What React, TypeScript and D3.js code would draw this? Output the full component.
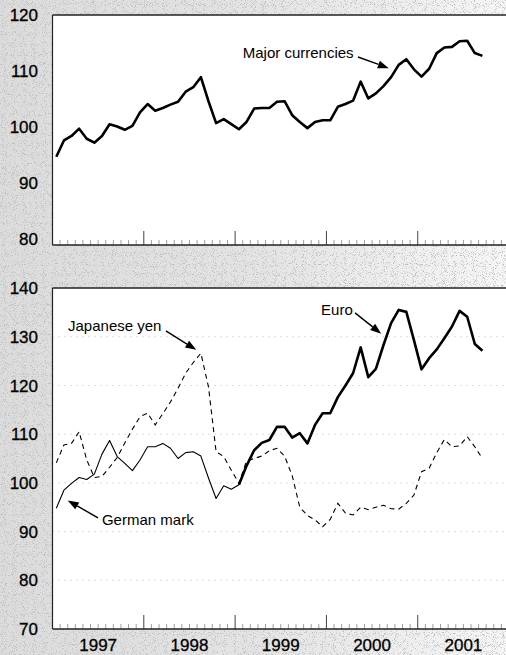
import React from 'react';
import * as d3 from 'd3';

// ---- data (monthly, Jan 1997 onward; index = month number) ----
const majorCurrencies = [
  94.7, 97.6, 98.4, 99.7, 97.9, 97.2, 98.4, 100.5, 100.1, 99.5, 100.2, 102.6,
  104.1, 102.9, 103.4, 104.0, 104.5, 106.3, 107.1, 108.9, 104.6, 100.7, 101.4, 100.5,
  99.6, 100.9, 103.3, 103.4, 103.4, 104.5, 104.6, 102.1, 100.9, 99.8, 100.9, 101.2,
  101.2, 103.6, 104.1, 104.7, 108.1, 105.1, 106.0, 107.3, 108.9, 111.1, 112.1, 110.3,
  109.0, 110.4, 113.2, 114.2, 114.3, 115.3, 115.4, 113.2, 112.7,
];
const germanMark = [
  94.8, 98.5, 99.9, 101.1, 100.7, 101.8, 105.9, 108.7, 105.4, 104.0, 102.5, 104.7,
  107.4, 107.4, 108.1, 107.1, 105.0, 106.2, 106.4, 105.5, 101.0, 96.8, 99.4, 98.7,
  99.6,
];
const euroStart = 24;
const euro = [
  99.6, 103.5, 106.7, 108.2, 108.8, 111.5, 111.5, 109.3, 110.2, 108.1, 111.9, 114.3,
  114.3, 117.6, 120.0, 122.5, 127.8, 121.7, 123.4, 128.3, 132.8, 135.5, 135.1, 129.3,
  123.3, 125.6, 127.4, 129.7, 132.1, 135.3, 134.1, 128.5, 127.1,
];
const japaneseYen = [
  104.1, 107.8, 108.1, 110.5, 104.7, 101.1, 101.3, 103.2, 105.2, 108.2, 111.0, 113.6,
  114.3, 111.9, 114.2, 116.6, 119.4, 122.5, 124.7, 126.6, 119.7, 106.4, 105.4, 102.6,
  99.9, 104.5, 105.0, 105.5, 106.6, 107.1, 105.5, 101.5, 95.0, 93.3, 92.4, 91.0,
  92.5, 95.8, 93.8, 93.4, 95.0, 94.5, 95.0, 95.4, 94.7, 94.6, 95.8, 97.5,
  102.3, 103.0, 106.2, 108.9, 107.4, 107.6, 109.5, 107.4, 105.0,
];
const yearLabels = ['1997', '1998', '1999', '2000', '2001'];
const topTicks = [80, 90, 100, 110, 120];
const bottomTicks = [70, 80, 90, 100, 110, 120, 130, 140];
const bottomGrid = [80, 90, 100, 110, 120, 130];

// annotations in data space: [month, value]
const annTop = [
  { label: 'Major currencies', text: [25.0, 112.3], from: [40.15, 112.5], to: [44.2, 110.5] },
];
const annBottom = [
  { label: 'Japanese yen', text: [2.04, 131.2], from: [14.9, 131.2], to: [18.9, 127.3] },
  { label: 'Euro', text: [35.3, 134.5], from: [39.76, 134.9], to: [43.2, 130.6] },
  { label: 'German mark', text: [6.5, 91.3], from: [5.98, 92.8], to: [2.0, 96.4] },
];

const W = 506;
const H = 655;
const FONT = '"Liberation Sans", Arial, Helvetica, sans-serif';

const x = d3.scaleLinear().domain([0, 59.6]).range([52.5, 506]);
const yTop = d3.scaleLinear().domain([78.93, 120]).range([245, 15]);
const yBot = d3.scaleLinear().domain([70, 140]).range([629, 288]);

function Arrow({ x1, y1, x2, y2 }: { x1: number; y1: number; x2: number; y2: number }) {
  const ang = Math.atan2(y2 - y1, x2 - x1);
  const L = 11;
  const Wd = 4;
  const bx = x2 - L * Math.cos(ang);
  const by = y2 - L * Math.sin(ang);
  const px = -Math.sin(ang) * Wd;
  const py = Math.cos(ang) * Wd;
  return (
    <g>
      <line x1={x1} y1={y1} x2={bx} y2={by} stroke="#000" strokeWidth={1.4} />
      <path d={`M${x2},${y2}L${bx + px},${by + py}L${bx - px},${by - py}Z`} fill="#000" />
    </g>
  );
}

function Ticks({ y0 }: { y0: number }) {
  const months = d3.range(1, 60);
  return (
    <g>
      {months.map((m) => {
        const major = m % 12 === 0;
        return (
          <line
            key={m}
            x1={x(m)}
            x2={x(m)}
            y1={y0}
            y2={y0 - (major ? 14 : 5)}
            stroke={major ? '#444' : '#888'}
            strokeWidth={major ? 1 : 0.8}
          />
        );
      })}
    </g>
  );
}

export default function App() {
  const lineTop = d3
    .line<number>()
    .x((_, i) => x(i + 0.5))
    .y((d) => yTop(d));
  const lineBot = (offset: number) =>
    d3
      .line<number>()
      .x((_, i) => x(i + offset + 0.5))
      .y((d) => yBot(d));

  const left = x(0);
  return (
    <svg
      width={W}
      height={H}
      style={{ position: 'absolute', left: 0, top: 0, display: 'block' }}
      fontFamily={FONT}
    >
      <defs>
        <linearGradient id="bgGrad" x1="0" y1="0" x2="1" y2="0">
          <stop offset="0" stopColor="#dcdcdc" />
          <stop offset="0.5" stopColor="#e4e4e4" />
          <stop offset="1" stopColor="#f6f6f6" />
        </linearGradient>
        <filter id="stipple" x="0" y="0" width="1" height="1" filterUnits="objectBoundingBox">
          <feTurbulence type="fractalNoise" baseFrequency="1.1" numOctaves="1" seed="7" />
          <feColorMatrix
            type="matrix"
            values="0 0 0 0 0.5  0 0 0 0 0.5  0 0 0 0 0.5  7 0 0 0 -3.9"
          />
        </filter>
      </defs>
      <rect x={0} y={0} width={W} height={H} fill="url(#bgGrad)" />
      <rect x={0} y={0} width={W} height={H} fill="#fff" filter="url(#stipple)" />

      {/* Top panel */}
      <rect x={left} y={yTop(120)} width={W - left} height={yTop(78.93) - yTop(120)} fill="#fff" />
      <Ticks y0={yTop(78.93)} />
      <line x1={left} x2={W} y1={yTop(120)} y2={yTop(120)} stroke="#222" strokeWidth={1.5} />
      <line x1={left} x2={W} y1={yTop(78.93)} y2={yTop(78.93)} stroke="#222" strokeWidth={1.5} />
      <line x1={left} x2={left} y1={yTop(120)} y2={yTop(78.93)} stroke="#222" strokeWidth={1.2} />
      {topTicks.map((t) => (
        <text
          key={t}
          x={38}
          y={yTop(t)}
          dy="0.36em"
          textAnchor="end"
          fontSize={17}
          stroke="#000"
          strokeWidth={0.3}
        >
          {t}
        </text>
      ))}
      <path d={lineTop(majorCurrencies) || ''} fill="none" stroke="#000" strokeWidth={2.6} strokeLinejoin="round" />
      {annTop.map((a) => (
        <g key={a.label}>
          <text x={x(a.text[0])} y={yTop(a.text[1])} fontSize={15}>
            {a.label}
          </text>
          <Arrow x1={x(a.from[0])} y1={yTop(a.from[1])} x2={x(a.to[0])} y2={yTop(a.to[1])} />
        </g>
      ))}

      {/* Bottom panel */}
      <rect x={left} y={yBot(140)} width={W - left} height={yBot(70) - yBot(140)} fill="#fff" />
      {bottomGrid.map((g) => (
        <line
          key={g}
          x1={left}
          x2={W}
          y1={yBot(g)}
          y2={yBot(g)}
          stroke="#aaa"
          strokeWidth={0.8}
          strokeDasharray="1 5"
        />
      ))}
      <Ticks y0={yBot(70)} />
      <line x1={left} x2={W} y1={yBot(140)} y2={yBot(140)} stroke="#222" strokeWidth={1.5} />
      <line x1={left} x2={W} y1={yBot(70)} y2={yBot(70)} stroke="#222" strokeWidth={1.5} />
      <line x1={left} x2={left} y1={yBot(140)} y2={yBot(70)} stroke="#222" strokeWidth={1.2} />
      {bottomTicks.map((t) => (
        <text
          key={t}
          x={38}
          y={yBot(t)}
          dy="0.36em"
          textAnchor="end"
          fontSize={17}
          stroke="#000"
          strokeWidth={0.3}
        >
          {t}
        </text>
      ))}
      {yearLabels.map((yl, i) => (
        <text
          key={yl}
          x={x(i * 12 + 6)}
          y={645}
          dy="0.36em"
          textAnchor="middle"
          fontSize={17}
          stroke="#000"
          strokeWidth={0.3}
        >
          {yl}
        </text>
      ))}
      <path
        d={lineBot(0)(japaneseYen) || ''}
        fill="none"
        stroke="#000"
        strokeWidth={1.1}
        strokeDasharray="5 4"
      />
      <path d={lineBot(0)(germanMark) || ''} fill="none" stroke="#000" strokeWidth={1.1} strokeLinejoin="round" />
      <path
        d={lineBot(euroStart)(euro) || ''}
        fill="none"
        stroke="#000"
        strokeWidth={2.6}
        strokeLinejoin="round"
      />
      {annBottom.map((a) => (
        <g key={a.label}>
          <text x={x(a.text[0])} y={yBot(a.text[1])} fontSize={15}>
            {a.label}
          </text>
          <Arrow x1={x(a.from[0])} y1={yBot(a.from[1])} x2={x(a.to[0])} y2={yBot(a.to[1])} />
        </g>
      ))}
    </svg>
  );
}
